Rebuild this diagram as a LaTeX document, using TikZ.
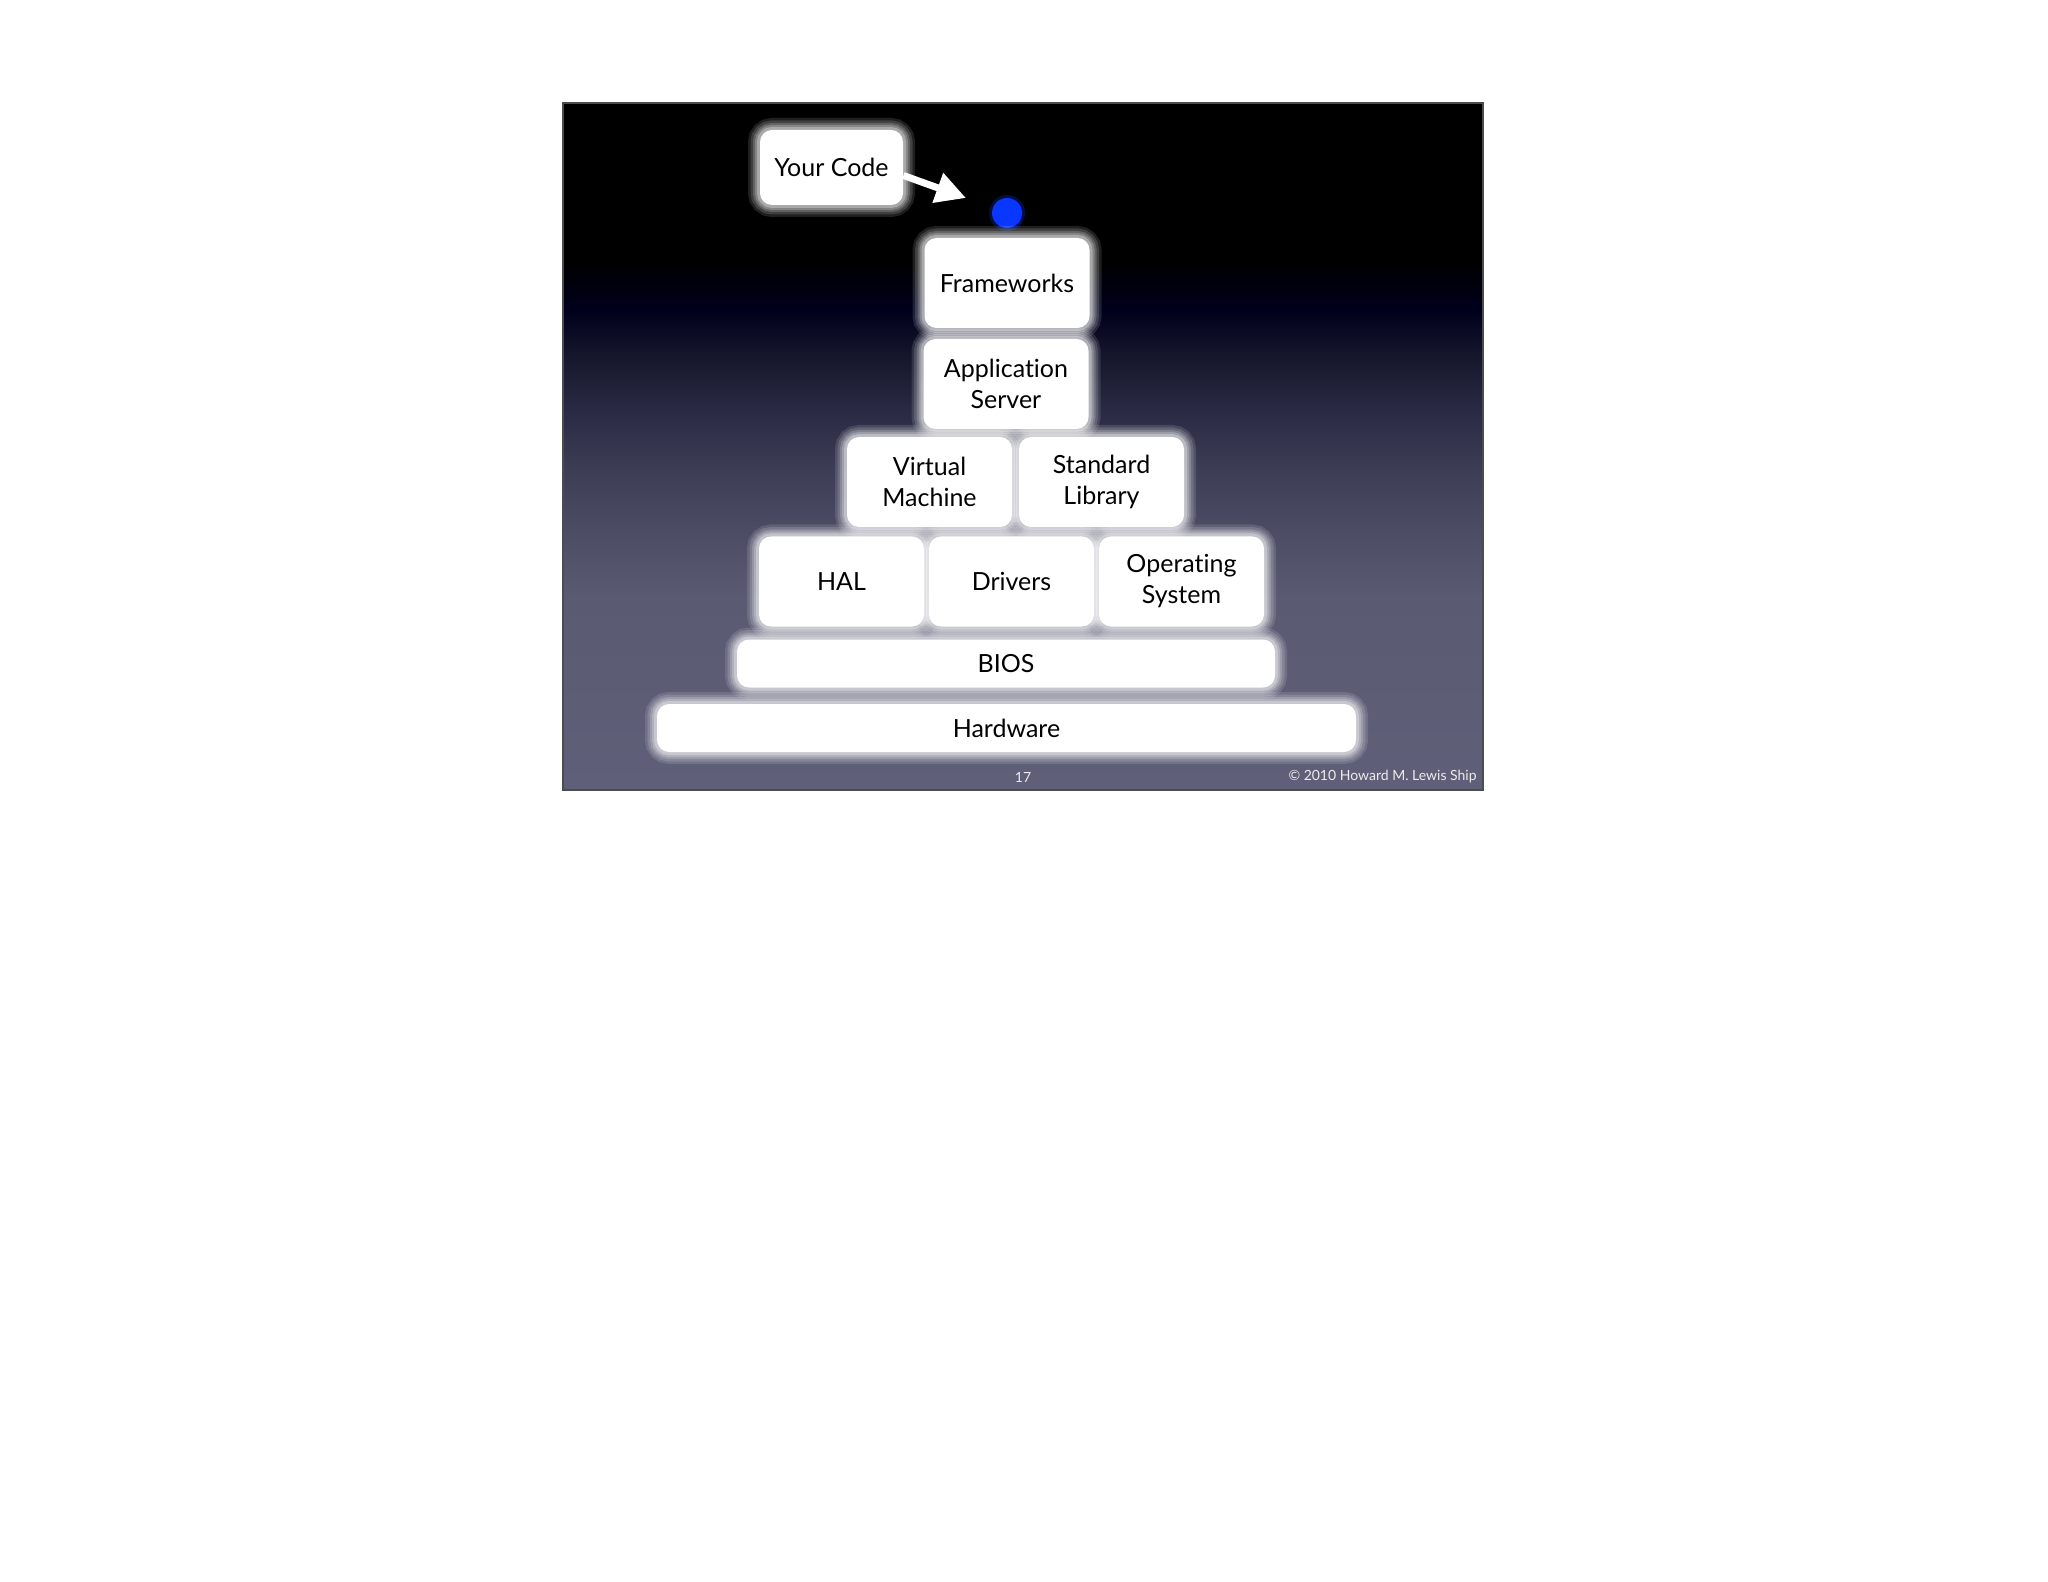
\documentclass[tikz,border=0pt]{standalone}
\usepackage{fontspec}
\setmainfont{Lato}[Ligatures={NoCommon,NoRequired,NoContextual}, Contextuals=NoAlternate]
\usetikzlibrary{arrows.meta}

\definecolor{sbot}{HTML}{605F79}
\definecolor{sa}{HTML}{5A5A72}
\definecolor{sb}{HTML}{4E4D66}
\definecolor{sc}{HTML}{3C3C55}
\definecolor{sd}{HTML}{282842}
\definecolor{se}{HTML}{16162C}
\definecolor{sf}{HTML}{00001C}
\definecolor{dotblue}{HTML}{0A37FF}
% the path covers the band 25bp..75bp of the shading
\pgfdeclareverticalshading{slidebg}{100bp}{color(0bp)=(sbot); color(25bp)=(sbot); color(39bp)=(sa); color(43.5bp)=(sb);
  color(48.5bp)=(sc); color(53bp)=(sd); color(56.5bp)=(se); color(60bp)=(sf); color(63.5bp)=(black); color(100bp)=(black)}

\tikzset{
  glow/.style={preaction={draw=white, draw opacity=0.12, line width=12pt},
               preaction={draw=white, draw opacity=0.15, line width=9.5pt},
               preaction={draw=white, draw opacity=0.18, line width=7pt},
               preaction={draw=white, draw opacity=0.22, line width=5pt},
               preaction={draw=white, draw opacity=0.3, line width=3pt}},
  layer/.style={fill=white, rounded corners=6pt, glow, align=center, inner sep=2pt,
                minimum width=82.5pt, minimum height=45pt,
                font=\fontsize{12.5}{15.5}\selectfont},
  wide/.style={layer, minimum height=24pt},
  foot/.style={text=white!85!gray, inner sep=0pt, font=\fontsize{7}{8}\selectfont},
  pointer/.style={draw=white, line width=3.5pt, -{Triangle[length=15pt,width=15pt]}},
}

\begin{document}
\begin{tikzpicture}[x=0.5pt,y=-0.5pt]
\useasboundingbox[fill=white] (0,0) rectangle (2048,1582);
% slide
\shade[shading=slidebg, draw=black!70, line width=0.6pt] (563,103) rectangle (1483,790);

% top of the stack
\node[layer, minimum width=71.5pt, minimum height=37.5pt] (code) at (831.5,167.5) {Your Code};
\node[circle, fill=dotblue, minimum size=15pt, inner sep=0pt,
      preaction={draw=dotblue, draw opacity=0.25, line width=3pt}] (dot) at (1007,213) {};
\coordinate (aim) at (966,198);
\draw[pointer] ([yshift=-4pt]code.east) -- (aim);

\node[layer] (fw) at (1007,283) {Frameworks};
\node[layer] (app) at (1006,384) {Application\\Server};

% middle rows
\node[layer] (vm) at (929.5,482) {Virtual\\Machine};
\node[layer] (stdlib) at (1101.5,482) {Standard\\Library};
\foreach \n/\x/\t in {hal/841.5/HAL, drv/1011.5/Drivers, os/1181.5/{Operating\\System}} {
  \node[layer] (\n) at (\x,581.5) {\t};
}

% bottom rows
\node[wide, minimum width=269pt] (bios) at (1006,663.5) {BIOS};
\node[wide, minimum width=349.5pt] (hw) at (1006.5,728) {Hardware};

% footer
\node[foot] (pnum) at (1023,777) {17};
\node[foot, anchor=east] (copy) at (1477,777) {\textcopyright{} 2010 Howard M. Lewis Ship};
\end{tikzpicture}
\end{document}
